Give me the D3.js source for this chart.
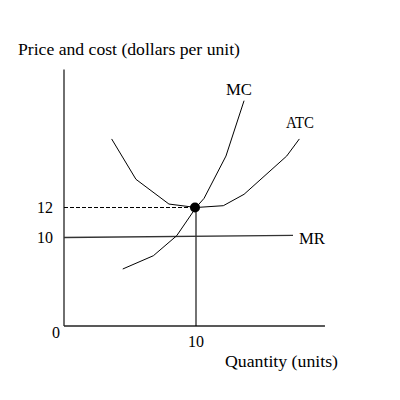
<!DOCTYPE html>
<html><head><meta charset="utf-8">
<script src="https://cdn.jsdelivr.net/npm/d3@7"></script>
<style>body{margin:0;background:#fff}svg{display:block}text{font-family:"Liberation Serif","DejaVu Serif",serif;fill:#000}</style>
</head><body><svg id="c" width="400" height="400"></svg>
<script>
// Data
const atcQ = [3.61, 5.45, 7.95, 10, 12.07, 13.64, 16.87, 17.83];
const atcP = [16.57, 13.88, 12.23, 12.0, 12.12, 12.88, 15.43, 16.57];
const mcQ = [4.45, 6.77, 8.54, 10, 10.61, 12.27, 13.64];
const mcP = [6.44, 7.94, 10.12, 12.0, 12.61, 15.43, 19.12];
const mrQ = [0, 17.35];
const mrP = [10, 10.14];
const eqQ = 10, eqP = 12;
const xTicks = [10];
const yTicks = [10, 12];
const xMax = 19.77, yMax = 21.2;

const svg = d3.select("#c");
const x = d3.scaleLinear().domain([0, 10]).range([64, 196]);
const y = d3.scaleLinear().domain([0, 10, 12]).range([326, 237.5, 207.5]);

const line = d3.line().x(d => x(d[0])).y(d => y(d[1]));

// axes
svg.append("line").attr("x1", x(0)).attr("x2", x(0)).attr("y1", y(0)).attr("y2", y(yMax))
  .attr("stroke", "#222").attr("stroke-width", 1.3);
svg.append("line").attr("x1", x(0)).attr("x2", x(xMax)).attr("y1", y(0)).attr("y2", y(0))
  .attr("stroke", "#222").attr("stroke-width", 1.3);

// guide lines
svg.append("line").attr("x1", x(0)).attr("x2", x(eqQ)).attr("y1", y(eqP)).attr("y2", y(eqP))
  .attr("stroke", "#000").attr("stroke-width", 1).attr("stroke-dasharray", "4,2");
svg.append("line").attr("x1", x(eqQ)).attr("x2", x(eqQ)).attr("y1", y(0)).attr("y2", y(eqP))
  .attr("stroke", "#000").attr("stroke-width", 1.1);

// MR
svg.append("path").attr("d", line(mrQ.map((q, i) => [q, mrP[i]])))
  .attr("fill", "none").attr("stroke", "#333").attr("stroke-width", 1.3);
// ATC
svg.append("path").attr("d", line(atcQ.map((q, i) => [q, atcP[i]])))
  .attr("fill", "none").attr("stroke", "#000").attr("stroke-width", 1);
// MC
svg.append("path").attr("d", line(mcQ.map((q, i) => [q, mcP[i]])))
  .attr("fill", "none").attr("stroke", "#000").attr("stroke-width", 1);

// point
svg.append("circle").attr("cx", x(eqQ) - 1).attr("cy", y(eqP)).attr("r", 5).attr("fill", "#000");

// tick labels
const fs = 16;
svg.selectAll(".yt").data(yTicks).enter().append("text")
  .attr("x", 53).attr("y", d => y(d) + 5).attr("text-anchor", "end").attr("font-size", fs).text(d => d);
svg.append("text").attr("x", 56).attr("y", 338).attr("text-anchor", "middle").attr("font-size", fs).text("0");
svg.selectAll(".xt").data(xTicks).enter().append("text")
  .attr("x", d => x(d)).attr("y", 347).attr("text-anchor", "middle").attr("font-size", fs).text(d => d);

// curve labels
svg.append("text").attr("x", 226).attr("y", 94.5).attr("font-size", fs)
  .attr("textLength", 26).attr("lengthAdjust", "spacingAndGlyphs").text("MC");
svg.append("text").attr("x", 286).attr("y", 127.5).attr("font-size", fs)
  .attr("textLength", 28).attr("lengthAdjust", "spacingAndGlyphs").text("ATC");
svg.append("text").attr("x", 299).attr("y", 244).attr("font-size", fs)
  .attr("textLength", 26).attr("lengthAdjust", "spacingAndGlyphs").text("MR");

// axis titles
svg.append("text").attr("x", 18).attr("y", 55).attr("font-size", fs)
  .attr("textLength", 222).attr("lengthAdjust", "spacingAndGlyphs").text("Price and cost (dollars per unit)");
svg.append("text").attr("x", 225).attr("y", 367).attr("font-size", fs)
  .attr("textLength", 113).attr("lengthAdjust", "spacingAndGlyphs").text("Quantity (units)");
</script></body></html>
